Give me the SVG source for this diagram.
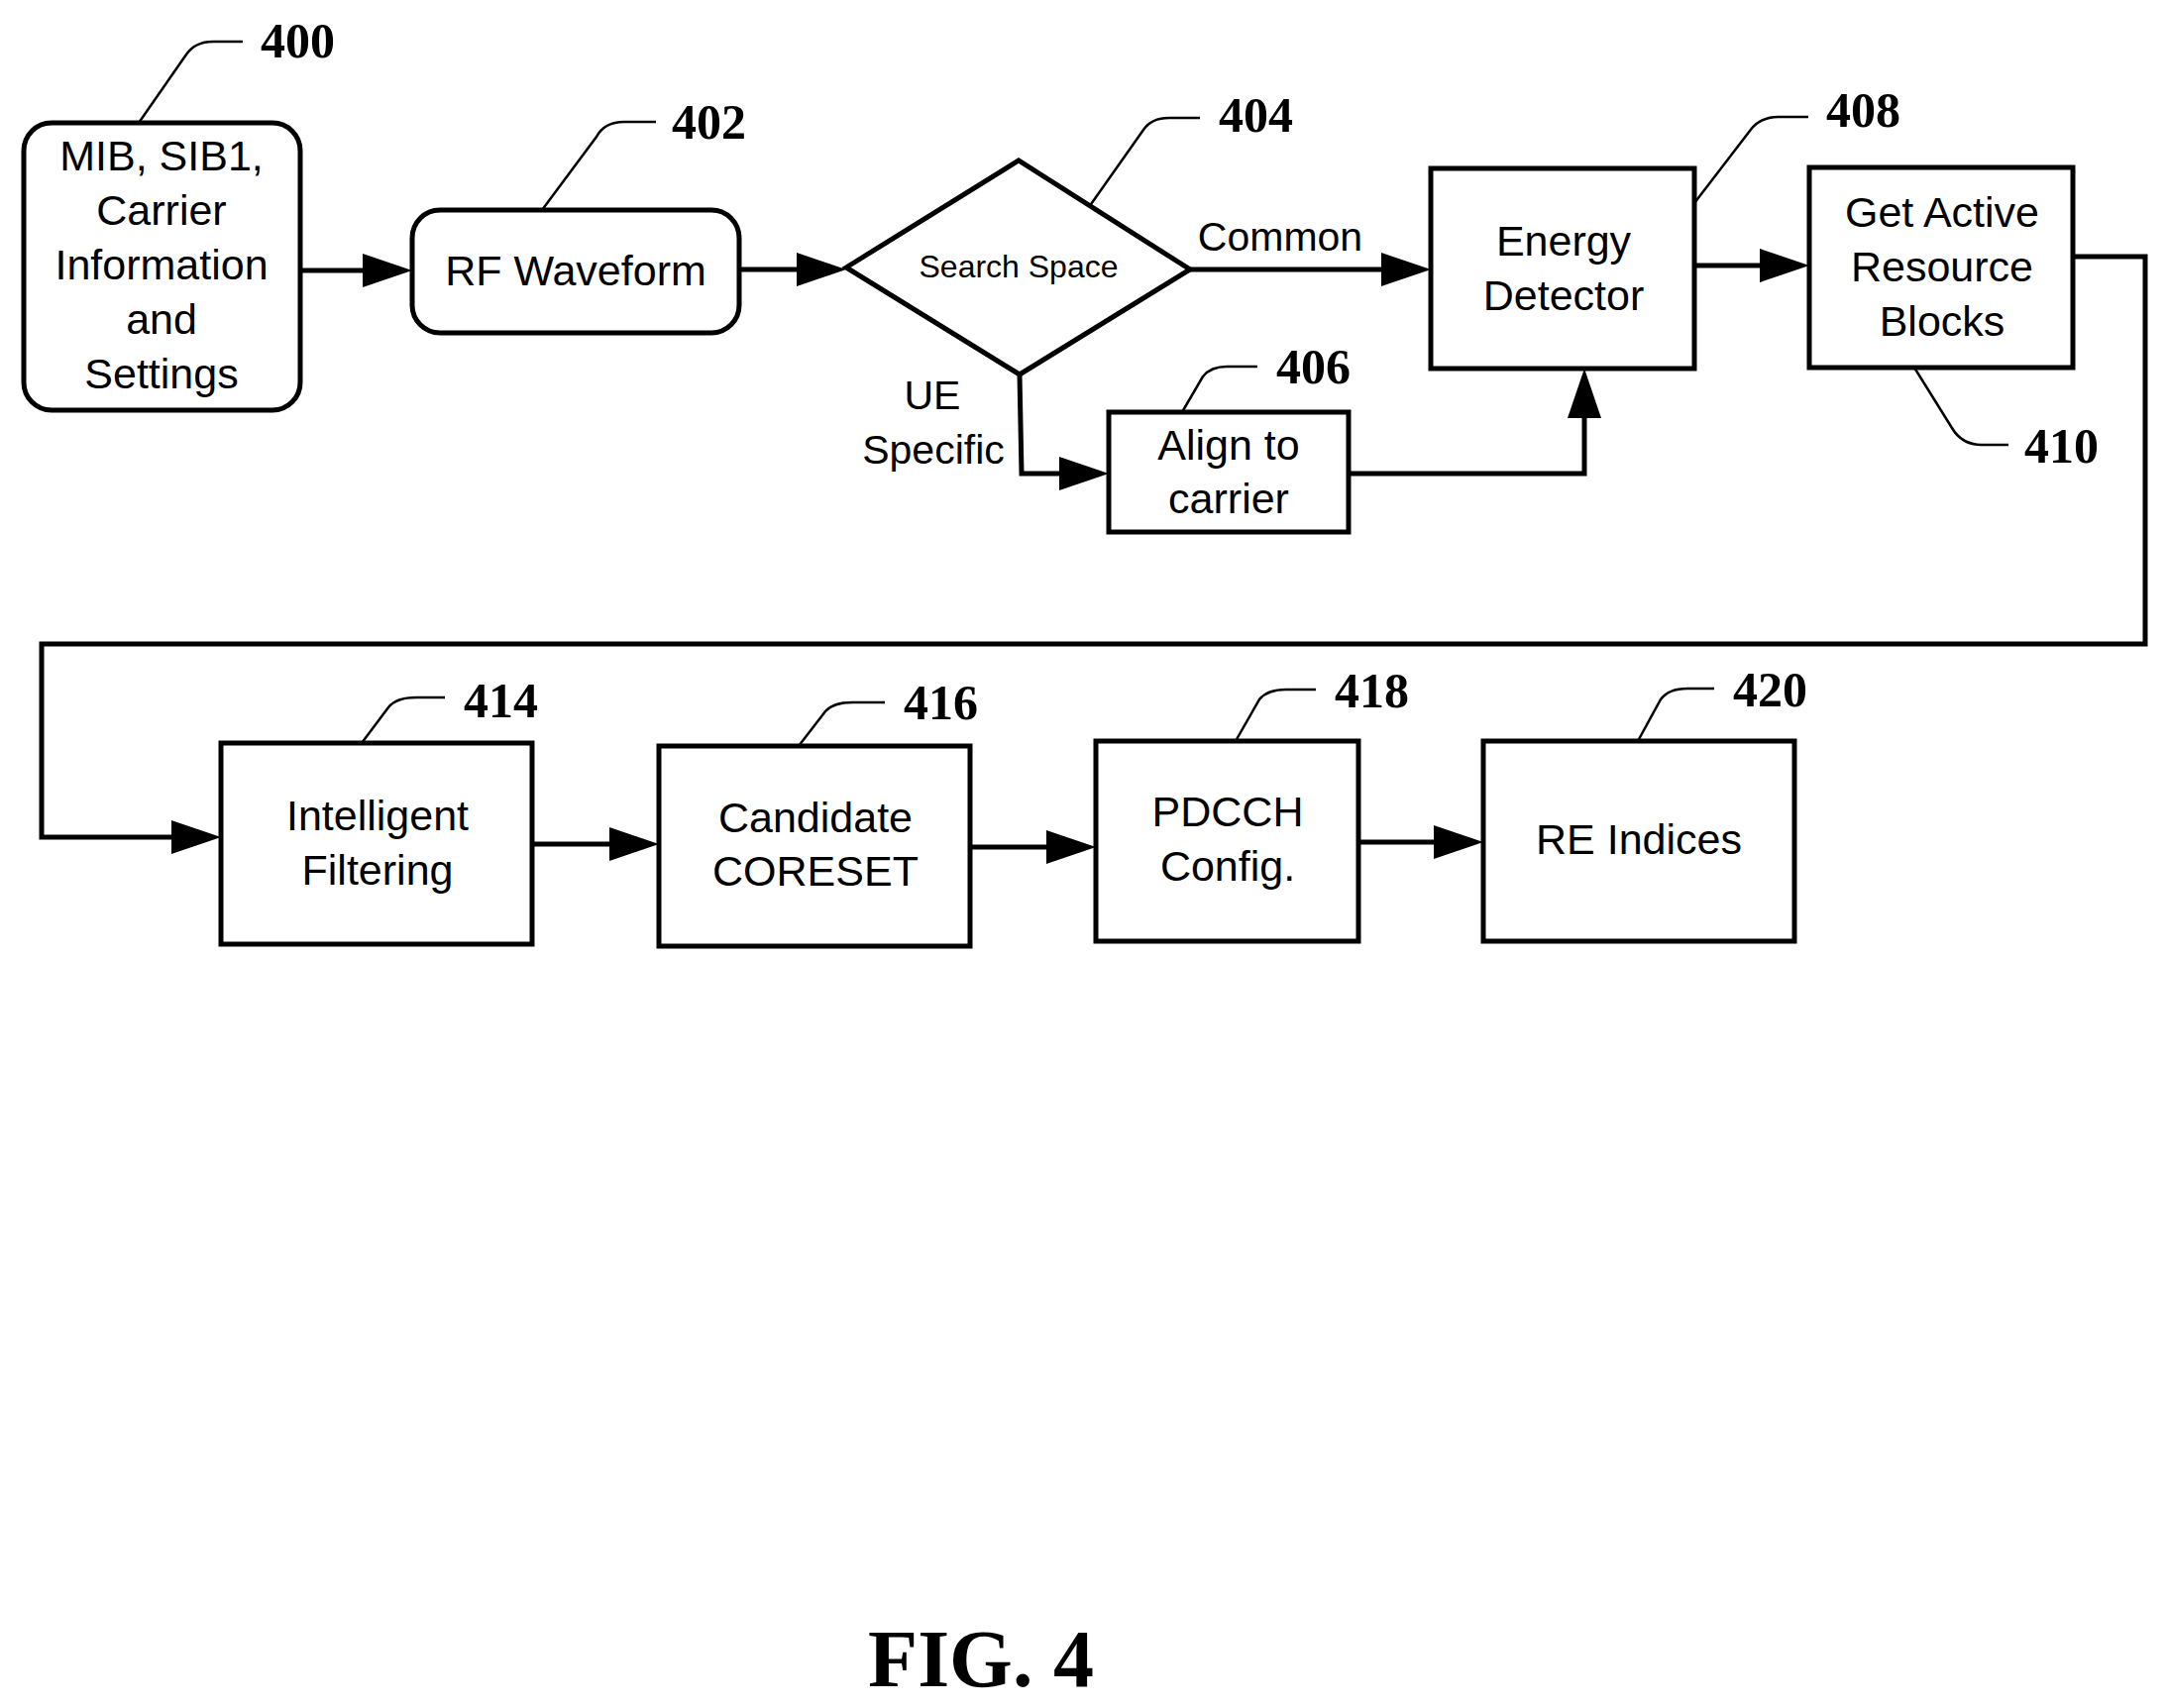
<svg xmlns="http://www.w3.org/2000/svg" width="2187" height="1724" viewBox="0 0 2187 1724">
<defs>
<marker id="ah" markerWidth="10" markerHeight="10" refX="10" refY="5" orient="auto" markerUnits="userSpaceOnUse" viewBox="0 0 10 10" style="overflow:visible">
<path d="M0,0 L10,5 L0,10 Z" fill="#000" transform="scale(4.8,3.2) translate(-0,0)"/>
</marker>
</defs>
<style>
.b{fill:#fff;stroke:#000;stroke-width:5}
.t{font-family:"Liberation Sans",Arial,sans-serif;font-size:43px;text-anchor:middle;fill:#000}
.n{font-family:"Liberation Serif","Times New Roman",serif;font-weight:bold;font-size:50px;fill:#000}
.l{fill:none;stroke:#000;stroke-width:2.5}
.c{fill:none;stroke:#000;stroke-width:5}
.a{fill:#000}
</style>
<rect width="2187" height="1724" fill="#fff"/>
<g id="n400"><rect class="b" x="24" y="124" width="279" height="290" rx="28"/>
<text class="t" x="163" y="172">MIB, SIB1,</text><text class="t" x="163" y="227">Carrier</text><text class="t" x="163" y="282">Information</text><text class="t" x="163" y="337">and</text><text class="t" x="163" y="392">Settings</text>
<path class="l" d="M140,124 L188,55 Q197,42 215,42 L245,42"/><text class="n" x="263" y="58">400</text></g>
<g id="n402"><rect class="b" x="416" y="212" width="330" height="124" rx="28"/>
<text class="t" x="581" y="288">RF Waveform</text>
<path class="l" d="M547,212 L602,138 Q610,123 630,123 L662,123"/><text class="n" x="678" y="140">402</text></g>
<g id="n404"><polygon class="b" points="854,270 1028,162 1201,272 1029,378"/>
<text class="t" x="1028" y="280" style="font-size:32px">Search Space</text>
<path class="l" d="M1099,209 L1154,131 Q1162,119 1180,119 L1211,119"/><text class="n" x="1230" y="133">404</text></g>
<g id="n406"><rect class="b" x="1119" y="416" width="242" height="121"/>
<text class="t" x="1240" y="464">Align to</text><text class="t" x="1240" y="518">carrier</text>
<path class="l" d="M1193,416 L1214,380 Q1222,370 1238,370 L1269,370"/><text class="n" x="1288" y="387">406</text></g>
<g id="n408"><rect class="b" x="1444" y="170" width="266" height="202"/>
<text class="t" x="1578" y="258">Energy</text><text class="t" x="1578" y="313">Detector</text>
<path class="l" d="M1710,205 L1766,132 Q1776,118 1795,118 L1825,118"/><text class="n" x="1843" y="128">408</text></g>
<g id="n410"><rect class="b" x="1826" y="169" width="266" height="202"/>
<text class="t" x="1960" y="229">Get Active</text><text class="t" x="1960" y="284">Resource</text><text class="t" x="1960" y="339">Blocks</text>
<path class="l" d="M1932,371 L1970,432 Q1980,449 2000,449 L2027,449"/><text class="n" x="2043" y="467">410</text></g>
<g id="n414"><rect class="b" x="223" y="750" width="314" height="203"/>
<text class="t" x="381" y="838">Intelligent</text><text class="t" x="381" y="893">Filtering</text>
<path class="l" d="M365,750 L392,714 Q400,704 420,704 L449,704"/><text class="n" x="468" y="724">414</text></g>
<g id="n416"><rect class="b" x="665" y="753" width="314" height="202"/>
<text class="t" x="823" y="840">Candidate</text><text class="t" x="823" y="894">CORESET</text>
<path class="l" d="M806,753 L833,718 Q841,709 860,709 L893,709"/><text class="n" x="912" y="726">416</text></g>
<g id="n418"><rect class="b" x="1106" y="748" width="265" height="202"/>
<text class="t" x="1239" y="834">PDCCH</text><text class="t" x="1239" y="889">Config.</text>
<path class="l" d="M1247,748 L1271,706 Q1279,696 1298,696 L1328,696"/><text class="n" x="1347" y="714">418</text></g>
<g id="n420"><rect class="b" x="1497" y="748" width="314" height="202"/>
<text class="t" x="1654" y="862">RE Indices</text>
<path class="l" d="M1653,748 L1676,706 Q1684,695 1703,695 L1730,695"/><text class="n" x="1749" y="713">420</text></g>
<g id="labels">
<text class="t" x="1292" y="253" style="font-size:41px">Common</text>
<text class="t" x="941" y="413" style="font-size:41px">UE</text>
<text class="t" x="942" y="468" style="font-size:41px">Specific</text>
<text x="990" y="1702" style="font-family:'Liberation Serif','Times New Roman',serif;font-weight:bold;font-size:82px;text-anchor:middle">FIG. 4</text>
</g>
<g id="connectors">
<path class="c" d="M303,273 L370,273"/><polygon class="a" points="366,256 416,273 366,290"/>
<path class="c" d="M746,272 L808,272"/><polygon class="a" points="804,255 854,272 804,289"/>
<path class="c" d="M1201,272 L1398,272"/><polygon class="a" points="1394,255 1444,272 1394,289"/>
<path class="c" d="M1710,268 L1780,268"/><polygon class="a" points="1776,251 1826,268 1776,285"/>
<path class="c" d="M1029,378 L1031,478 L1073,478"/><polygon class="a" points="1069,461 1119,478 1069,495"/>
<path class="c" d="M1361,478 L1599,478 L1599,418"/><polygon class="a" points="1582,422 1599,372 1616,422"/>
<path class="c" d="M2092,259 L2165,259 L2165,650 L42,650 L42,845 L177,845"/><polygon class="a" points="173,828 223,845 173,862"/>
<path class="c" d="M537,852 L619,852"/><polygon class="a" points="615,835 665,852 615,869"/>
<path class="c" d="M979,855 L1060,855"/><polygon class="a" points="1056,838 1106,855 1056,872"/>
<path class="c" d="M1371,850 L1451,850"/><polygon class="a" points="1447,833 1497,850 1447,867"/>
</g>
</svg>
